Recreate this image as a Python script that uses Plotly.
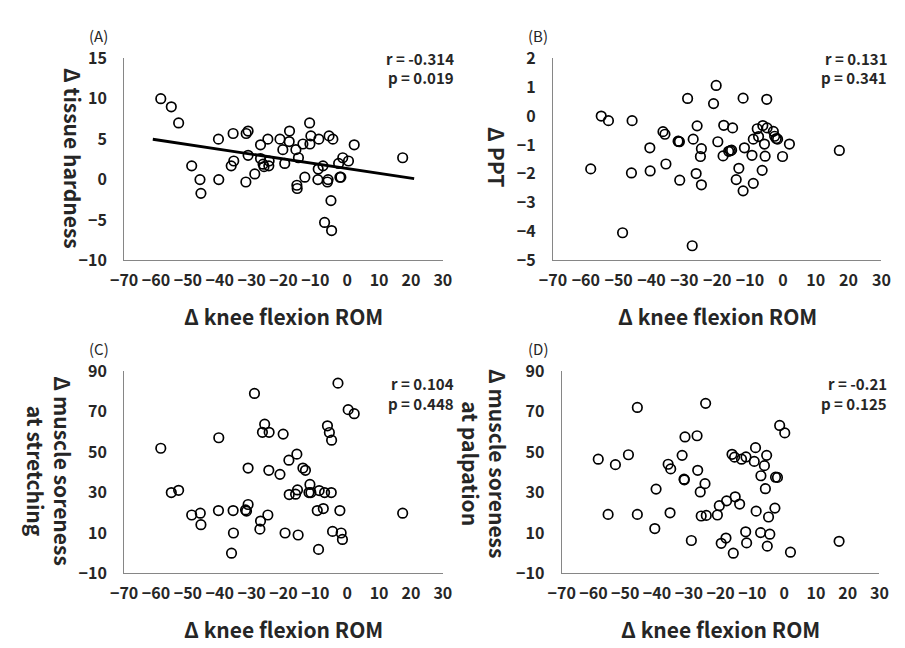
import numpy as np
import plotly.graph_objects as go

# ---------------- data ----------------
rom_A = [-58.5, -55.2, -52.9, -48.8, -46.2, -45.9, -40.4, -40.3, -35.8, -35.6, -36.4,
         -31.8, -31.7, -31.1, -31.1, -29.0, -27.2, -24.9, -27.2, -26.4, -26.1, -24.6,
         -24.5, -21.1, -18.1, -18.2, -20.2, -19.6, -16.1, -15.3, -15.8, -15.7, -13.3,
         -13.9, -11.7, -11.4, -11.8, -8.9, -9.1, -7.6, -9.2, -6.2, -6.0, -5.7, -4.5,
         -5.1, -7.1, -4.9, -2.3, -2.7, -1.4, 0.4, 2.2, 17.4, -2.0]
hardness_A = [10.0, 9.0, 7.0, 1.7, 0.0, -1.7, 5.0, 0.0, 5.7, 2.3, 1.7,
              -0.3, 5.7, 6.0, 3.0, 0.7, 4.3, 5.0, 2.6, 1.9, 1.6, 1.7,
              2.3, 5.0, 6.0, 4.7, 3.7, 2.0, 3.7, 2.7, -0.7, -1.1, 0.3,
              4.4, 4.4, 5.4, 7.0, 5.0, 1.3, 1.7, 0.0, -0.3, 0.0, 5.4, 5.0,
              -2.6, -5.3, -6.3, 0.3, 2.0, 2.7, 2.3, 4.3, 2.7, 0.3]

rom_B = [-58.5, -55.3, -53.1, -45.9, -46.1, -48.8, -40.5, -40.4, -36.5, -35.9, -35.6,
         -31.9, -31.5, -31.4, -29.0, -27.3, -26.1, -24.8, -25.1, -26.4, -24.8, -27.6,
         -21.1, -20.3, -19.8, -18.2, -18.0, -16.5, -15.6, -15.3, -13.4, -14.2, -12.1,
         -12.1, -11.7, -9.4, -9.0, -9.0, -7.8, -7.4, -6.1, -5.6, -5.4, -6.3, -4.9,
         -4.8, -2.9, -2.5, -2.0, -1.6, -0.1, 2.0, 17.2, -16.0, -31.7]
ppt_B = [-1.83, 0.0, -0.16, -0.16, -1.97, -4.04, -1.1, -1.9, -0.54, -0.63, -1.66,
         -0.87, -0.89, -2.22, 0.61, -0.8, -0.34, -1.13, -1.4, -1.99, -2.38, -4.49,
         0.43, 1.06, -0.89, -1.38, -0.32, -1.22, -1.18, -0.41, -1.81, -2.2, -2.59,
         0.62, -1.1, -1.36, -0.8, -2.33, -0.44, -0.71, -0.33, -0.97, -1.39, -1.88, 0.58,
         -0.41, -0.53, -0.7, -0.78, -0.8, -1.4, -0.97, -1.19, -1.2, -0.88]

rom_C = [-58.5, -55.2, -52.9, -48.8, -46.1, -45.9, -40.3, -40.4, -35.8, -35.7, -36.3,
         -31.9, -31.6, -31.1, -31.1, -29.1, -27.2, -27.4, -25.9, -26.6, -24.5, -24.6,
         -24.9, -21.1, -20.1, -19.5, -18.3, -15.8, -18.2, -16.2, -15.6, -15.4, -13.9,
         -13.1, -11.7, -12.0, -11.4, -8.8, -7.1, -5.0, -9.4, -7.5, -9.0, -6.2, -5.6,
         -4.9, -2.9, -2.3, -4.6, -1.9, -1.5, 0.3, 2.2, 17.4]
sore_stretch_C = [51.9, 30.0, 31.1, 18.9, 19.8, 14.1, 57.1, 21.1, 21.1, 10.0, 0.0,
                  21.4, 20.8, 24.1, 42.1, 79.0, 15.9, 11.9, 63.8, 59.8, 59.8, 41.0,
                  18.9, 39.0, 58.9, 10.0, 46.0, 49.0, 29.0, 29.2, 31.3, 9.0, 42.1,
                  41.0, 34.0, 30.0, 30.0, 31.0, 30.0, 30.0, 21.1, 22.1, 1.9, 63.0, 59.7,
                  55.9, 84.1, 21.1, 10.8, 10.0, 6.8, 71.0, 69.0, 19.8]

rom_D = [-58.5, -55.4, -53.1, -49.0, -46.2, -46.2, -40.3, -40.7, -36.5, -35.7, -35.9,
         -32.1, -31.4, -31.2, -31.5, -29.2, -27.4, -27.2, -26.4, -24.9, -24.7, -26.1,
         -24.5, -21.0, -20.4, -19.8, -18.3, -18.1, -16.0, -15.4, -14.0, -16.4, -15.6,
         -13.4, -12.0, -12.1, -11.8, -9.0, -9.4, -8.8, -7.4, -7.3, -6.2, -5.5, -5.9,
         -4.9, -4.5, -5.3, -2.9, -2.7, -2.1, -1.4, 0.2, 2.0, 17.3]
sore_palp_D = [46.5, 19.2, 43.8, 48.7, 72.1, 19.2, 31.7, 12.2, 44.0, 41.7, 20.0,
               48.4, 36.3, 57.5, 36.6, 6.3, 58.1, 41.0, 30.3, 34.4, 74.1, 18.4,
               18.7, 18.9, 23.5, 4.9, 7.5, 25.9, 0.0, 27.9, 24.3, 48.9, 47.5,
               46.5, 47.6, 10.6, 5.1, 52.2, 45.4, 20.8, 10.2, 38.3, 43.3, 48.4, 31.9,
               17.9, 9.4, 3.5, 22.3, 37.6, 37.5, 63.2, 59.5, 0.5, 5.9]

panel_labels = ["(A)", "(B)", "(C)", "(D)"]
y_titles = ["Δ tissue hardness", "Δ PPT",
            "Δ muscle soreness<br>at stretching", "Δ muscle soreness<br>at palpation"]
x_title = "Δ knee flexion ROM"
r_texts = ["r = -0.314", "r = 0.131", "r = 0.104", "r = -0.21"]
p_texts = ["p = 0.019", "p = 0.341", "p = 0.448", "p = 0.125"]
x_range = [-70, 30]
y_ranges = [[-10, 15], [-5, 2], [-10, 90], [-10, 90]]
y_dticks = [5, 1, 20, 20]
trend_x_ends = [-61, 21]

# ---------------- layout geometry (pixels) ----------------
W, H = 905, 648
FONT = "Noto Sans CJK JP"
TXT = "#262626"

def px(x):
    return x / W

def py(y):
    return 1 - y / H

# plot area boxes: left, right, top, bottom (px)
boxes = [(113, 440, 47, 257), (553, 890, 47, 257),
         (113, 440, 372, 582), (562, 888, 372, 582)]
stats_pos = [(454, 47), (898, 47), (454, 385), (898, 385)]   # right edge, r-line centre
label_pos = [(87, 23), (538, 23), (87, 348), (538, 348)]
ytitle_pos = [(60, 151), (495, 150), (37, 475), (483, 468)]

xs = [rom_A, rom_B, rom_C, rom_D]
ys = [hardness_A, ppt_B, sore_stretch_C, sore_palp_D]

fig = go.Figure()
layout = dict(width=W, height=H, margin=dict(l=0, r=0, t=0, b=0),
              paper_bgcolor="white", plot_bgcolor="white", showlegend=False,
              font=dict(family=FONT, color=TXT))
annotations = []

for i in range(4):
    n = "" if i == 0 else str(i + 1)
    xa, ya = "x" + n, "y" + n
    l, r, t, b = boxes[i]
    fig.add_trace(go.Scatter(
        x=xs[i], y=ys[i], mode="markers", xaxis=xa, yaxis=ya,
        marker=dict(symbol="circle-open", size=9.5, color="black",
                    line=dict(width=1.7, color="black")),
        hoverinfo="x+y"))
    axis_common = dict(showline=True, linecolor="#868686", linewidth=1.2,
                       showgrid=False, zeroline=False, ticks="outside",
                       tickcolor="rgba(0,0,0,0)",
                       tickfont=dict(family=FONT, size=16, color=TXT, weight=700))
    layout["xaxis" + n] = dict(axis_common, domain=[px(l), px(r)], range=x_range,
                               dtick=10, tick0=-70, anchor=ya, ticklen=5)
    layout["yaxis" + n] = dict(axis_common, domain=[py(b), py(t)], range=y_ranges[i],
                               dtick=y_dticks[i], tick0=y_ranges[i][0], anchor=xa,
                               ticklen=13)
    # x title
    annotations.append(dict(text=x_title, xref="paper", yref="paper",
                            x=px((l + r) / 2), y=py(b + 58), showarrow=False,
                            font=dict(family=FONT, size=21, color=TXT, weight=700),
                            xanchor="center", yanchor="middle"))
    # stats (two separate lines)
    sx, sy = stats_pos[i]
    for k, txt in enumerate([r_texts[i], p_texts[i]]):
        annotations.append(dict(text=txt, xref="paper", yref="paper",
                                x=px(sx), y=py(sy + 20 * k),
                                showarrow=False, align="right",
                                font=dict(family=FONT, size=15, color=TXT, weight=700),
                                xanchor="right", yanchor="middle"))
    # panel label
    annotations.append(dict(text=panel_labels[i], xref="paper", yref="paper",
                            x=px(label_pos[i][0]), y=py(label_pos[i][1]),
                            showarrow=False,
                            font=dict(family=FONT, size=15, color=TXT),
                            xanchor="center", yanchor="middle"))
    # y title
    annotations.append(dict(text=y_titles[i], xref="paper", yref="paper",
                            x=px(ytitle_pos[i][0]), y=py(ytitle_pos[i][1]),
                            showarrow=False, textangle=90,
                            font=dict(family=FONT, size=21, color=TXT, weight=700),
                            xanchor="center", yanchor="middle"))

# trend line for panel A (least squares fit of the data)
slope, intercept = np.polyfit(np.array(rom_A), np.array(hardness_A), 1)
tx = np.array(trend_x_ends, dtype=float)
fig.add_trace(go.Scatter(x=tx, y=slope * tx + intercept, mode="lines",
                         xaxis="x", yaxis="y",
                         line=dict(color="black", width=2.8), hoverinfo="skip"))

layout["annotations"] = annotations
fig.update_layout(**layout)
fig.write_html("out.html")
